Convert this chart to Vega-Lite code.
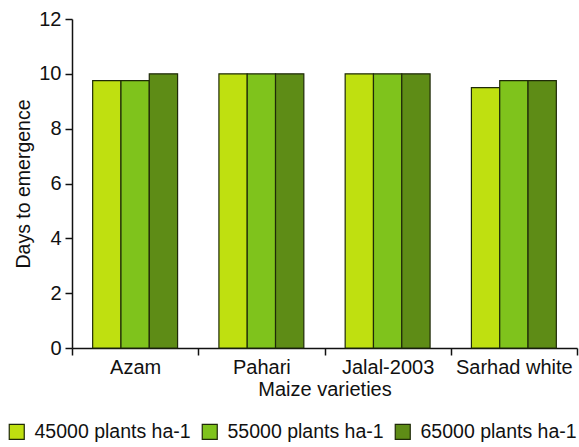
{
  "$schema": "https://vega.github.io/schema/vega-lite/v6.json",
  "width": 505,
  "height": 329,
  "autosize": {"type": "none"},
  "padding": {"left": 72, "top": 19, "right": 2, "bottom": 99},
  "background": "white",
  "config": {
    "view": {"stroke": null},
    "font": "Liberation Sans",
    "axis": {"labelFont": "Liberation Sans", "titleFont": "Liberation Sans", "labelColor": "#111", "titleColor": "#111", "domainColor": "#111", "tickColor": "#111", "domainWidth": 1.5, "tickWidth": 1.5, "grid": false, "titleFontWeight": "normal"},
    "legend": {"labelFont": "Liberation Sans"}
  },
  "data": {
    "values": [
      {"variety": "Azam", "density": "45000 plants ha-1", "days": 9.75},
      {"variety": "Azam", "density": "55000 plants ha-1", "days": 9.75},
      {"variety": "Azam", "density": "65000 plants ha-1", "days": 10},
      {"variety": "Pahari", "density": "45000 plants ha-1", "days": 10},
      {"variety": "Pahari", "density": "55000 plants ha-1", "days": 10},
      {"variety": "Pahari", "density": "65000 plants ha-1", "days": 10},
      {"variety": "Jalal-2003", "density": "45000 plants ha-1", "days": 10},
      {"variety": "Jalal-2003", "density": "55000 plants ha-1", "days": 10},
      {"variety": "Jalal-2003", "density": "65000 plants ha-1", "days": 10},
      {"variety": "Sarhad white", "density": "45000 plants ha-1", "days": 9.5},
      {"variety": "Sarhad white", "density": "55000 plants ha-1", "days": 9.75},
      {"variety": "Sarhad white", "density": "65000 plants ha-1", "days": 9.75}
    ]
  },
  "mark": {"type": "bar", "stroke": "#1f2a08", "strokeWidth": 1.2},
  "encoding": {
    "x": {
      "field": "variety", "type": "nominal", "sort": null,
      "scale": {"paddingInner": 0, "paddingOuter": 0},
      "axis": {"title": "Maize varieties", "labelAngle": 0, "labelFontSize": 20, "titleFontSize": 20, "tickBand": "extent", "tickSize": 7, "labelPadding": 2, "titlePadding": 2}
    },
    "xOffset": {"field": "density", "type": "nominal", "sort": null, "scale": {"paddingInner": 0, "paddingOuter": 0.73}},
    "y": {
      "field": "days", "type": "quantitative",
      "scale": {"domain": [0, 12]},
      "axis": {"title": "Days to emergence", "values": [0, 2, 4, 6, 8, 10, 12], "labelFontSize": 20, "titleFontSize": 19.5, "tickSize": 7, "labelPadding": 4, "titlePadding": 5}
    },
    "color": {
      "field": "density", "type": "nominal", "sort": null,
      "scale": {"range": ["#bfe010", "#7fc31c", "#5e8c16"]},
      "legend": {"title": null, "orient": "none", "direction": "horizontal", "legendX": -65, "legendY": 403, "labelFontSize": 19.5, "symbolType": "square", "symbolSize": 225, "symbolStrokeColor": "#1f2a08", "symbolStrokeWidth": 1.2, "columnPadding": 8, "labelOffset": 8, "labelColor": "#111"}
    }
  }
}
